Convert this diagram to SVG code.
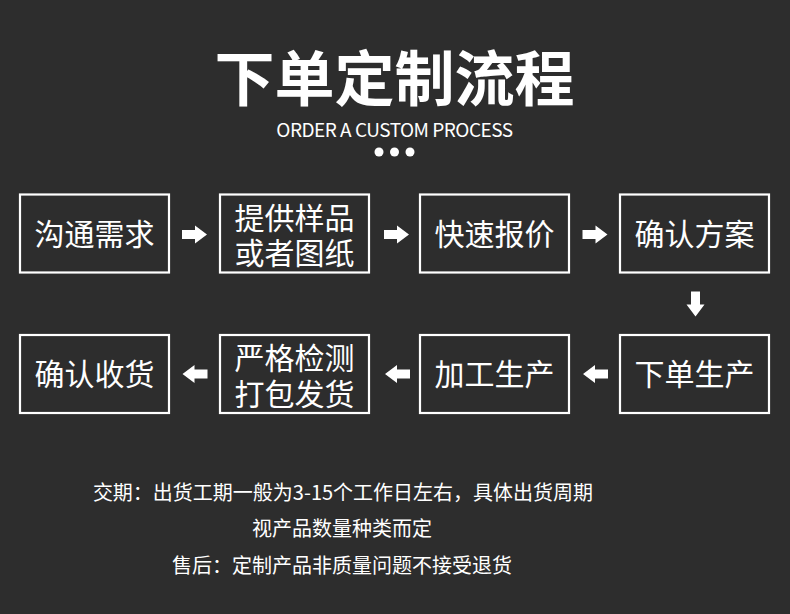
<svg xmlns="http://www.w3.org/2000/svg" width="790" height="614" viewBox="0 0 790 614">
<style>
.bg{fill:#2d2d2d}
.box{fill:none;stroke:#ffffff;stroke-width:2.2}
.t{font-family:"Noto Sans CJK SC","Noto Sans",sans-serif;fill:#ffffff;text-anchor:middle}
.bt{font-size:30px}
.title{font-size:60px;font-weight:700}
.sub{font-size:19px;letter-spacing:-0.5px}
.note{font-size:20px}
.arr{fill:#ffffff}
</style>
<defs>
<path id="ar" d="M-12.5,-4.5 H0.5 V-9 L12.5,0 L0.5,9 V4.5 H-12.5 Z"/>
</defs>
<rect class="bg" x="0" y="0" width="790" height="614"/>
<g id="header">
<text class="t title" x="394.5" y="101">下单定制流程</text>
<text class="t sub" x="394.5" y="137">ORDER A CUSTOM PROCESS</text>
<circle class="arr" cx="379" cy="152" r="4.5"/>
<circle class="arr" cx="394.5" cy="152" r="4.5"/>
<circle class="arr" cx="410" cy="152" r="4.5"/>
</g>
<g id="n1"><rect class="box" x="20" y="194.5" width="149" height="78"/><text class="t bt" x="94.5" y="245">沟通需求</text></g>
<g id="n2"><rect class="box" x="220" y="194.5" width="149" height="78"/><text class="t bt" x="294.5" y="229">提供样品<tspan x="294.5" dy="35">或者图纸</tspan></text></g>
<g id="n3"><rect class="box" x="420" y="194.5" width="149" height="78"/><text class="t bt" x="494.5" y="245">快速报价</text></g>
<g id="n4"><rect class="box" x="620" y="194.5" width="149" height="78"/><text class="t bt" x="694.5" y="245">确认方案</text></g>
<g id="n5"><rect class="box" x="620" y="335" width="149" height="78"/><text class="t bt" x="694.5" y="385">下单生产</text></g>
<g id="n6"><rect class="box" x="420" y="335" width="149" height="78"/><text class="t bt" x="494.5" y="385">加工生产</text></g>
<g id="n7"><rect class="box" x="220" y="335" width="149" height="78"/><text class="t bt" x="294.5" y="369">严格检测<tspan x="294.5" dy="36">打包发货</tspan></text></g>
<g id="n8"><rect class="box" x="20" y="335" width="149" height="78"/><text class="t bt" x="94.5" y="385">确认收货</text></g>
<g id="connectors" class="arr">
<use href="#ar" transform="translate(194.5,234.5)"/>
<use href="#ar" transform="translate(396.5,234.5)"/>
<use href="#ar" transform="translate(595,234.5)"/>
<use href="#ar" transform="translate(695.5,304) rotate(90)"/>
<use href="#ar" transform="translate(595.5,374) rotate(180)"/>
<use href="#ar" transform="translate(397.5,374) rotate(180)"/>
<use href="#ar" transform="translate(195,374) rotate(180)"/>
</g>
<g id="notes">
<text class="t note" x="343" y="500">交期：出货工期一般为3-15个工作日左右，具体出货周期</text>
<text class="t note" x="342" y="536">视产品数量种类而定</text>
<text class="t note" x="342" y="573">售后：定制产品非质量问题不接受退货</text>
</g>
</svg>
